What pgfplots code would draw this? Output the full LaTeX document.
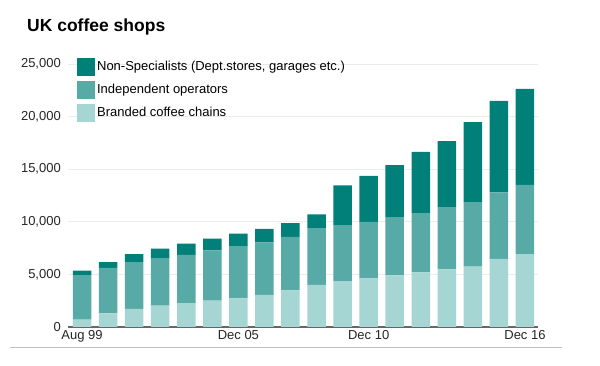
\documentclass[border=0pt]{standalone}
\usepackage{fontspec}
\setmainfont{Liberation Sans}
\usepackage{pgfplots}
\pgfplotsset{compat=1.18}
\definecolor{cdark}{RGB}{0,128,121}
\definecolor{cmid}{RGB}{88,170,166}
\definecolor{clight}{RGB}{166,214,211}
\begin{document}
\begin{tikzpicture}
\useasboundingbox (0,0) rectangle (600pt,366pt);
\fill[white] (0,0) rectangle (600pt,366pt);
\node[anchor=base west, inner sep=0pt, font=\fontsize{17.5}{20}\selectfont\bfseries] at (27pt,334pt) {UK coffee shops};
\draw[black!25, line width=1.3pt] (10pt,18.3pt) -- (562pt,18.3pt);
\begin{axis}[
  at={(68pt,39pt)}, anchor=south west,
  scale only axis, width=470pt, height=263pt,
  xmin=-0.54, xmax=17.5, ymin=0, ymax=25000,
  ybar stacked, bar width=18.5pt,
  axis x line*=bottom, axis y line*=left,
  y axis line style={draw=none},
  x axis line style={draw=black!60, line width=1.1pt, -},
  major tick length=0pt,
  xtick={0,6,11,17}, xticklabels={Aug 99,Dec 05,Dec 10,Dec 16},
  ytick={0,5000,10000,15000,20000,25000},
  scaled y ticks=false,
  ymajorgrids, grid style={draw=black!8, line width=0.9pt},
  /pgf/number format/1000 sep={,},
  /pgf/number format/assume math mode=true,
  tick label style={font=\fontsize{13}{15}\selectfont, text=black!85},
  yticklabel style={anchor=east, inner sep=0pt, xshift=-7pt},
  xticklabel style={anchor=north, inner sep=0pt, yshift=-3pt},
  legend image code/.code={\fill[#1] (0pt,-9pt) rectangle (18pt,9pt);},
  reverse legend,
  legend cell align=left,
  legend style={at={(rel axis cs:0.019,1.024)}, anchor=north west, draw=none, fill=none, inner sep=0pt, row sep=5pt, nodes={inner sep=2pt}, font=\fontsize{13}{15}\selectfont},
]
\addplot[fill=clight, draw=none] coordinates {
(0,710) (1,1285) (2,1730) (3,2020) (4,2280) (5,2500) (6,2730) (7,3050) (8,3470)
(9,4010) (10,4360) (11,4615) (12,4900) (13,5190) (14,5480) (15,5740) (16,6480) (17,6925)};
\addlegendentry{Branded coffee chains}
\addplot[fill=cmid, draw=none] coordinates {
(0,4165) (1,4330) (2,4425) (3,4520) (4,4585) (5,4780) (6,4900) (7,5000) (8,5105)
(9,5385) (10,5320) (11,5385) (12,5550) (13,5645) (14,5870) (15,6090) (16,6310) (17,6575)};
\addlegendentry{Independent operators}
\addplot[fill=cdark, draw=none] coordinates {
(0,480) (1,540) (2,770) (3,900) (4,1055) (5,1120) (6,1250) (7,1280) (8,1300)
(9,1315) (10,3780) (11,4365) (12,4930) (13,5805) (14,6330) (15,7640) (16,8700) (17,9125)};
\addlegendentry{Non-Specialists (Dept.stores, garages etc.)}
\end{axis}
\end{tikzpicture}
\end{document}
